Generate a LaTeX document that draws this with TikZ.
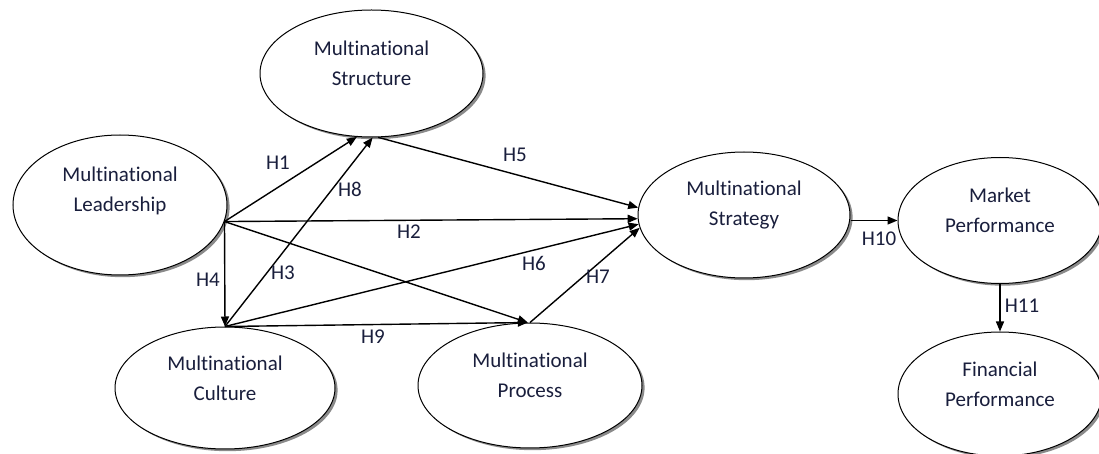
\documentclass[tikz,border=0pt]{standalone}
\usepackage{fontspec}
\setmainfont{Carlito}[Ligatures={NoCommon}]
\usetikzlibrary{arrows.meta, shapes.geometric, shadows}
\definecolor{inkblue}{RGB}{25, 30, 60}
\definecolor{shadowgray}{RGB}{125, 125, 125}

\begin{document}
\begin{tikzpicture}[
  x=0.5pt, y=-0.5pt,
  factor/.style={ellipse, draw, fill=white, line width=0.5pt, inner sep=0pt,
    drop shadow={shadow xshift=1.3pt, shadow yshift=-1.1pt, fill=shadowgray, opacity=0.9}},
  factortext/.style={align=center, text=inkblue, font=\fontsize{10.5}{15}\selectfont, yshift=5pt},
  hyp/.style={-{Triangle[length=5pt, width=4pt]}, line width=0.7pt},
  hlabel/.style={text=inkblue, font=\fontsize{10.5}{12}\selectfont, inner sep=1pt}
]
  \useasboundingbox (0,0) rectangle (1099,454);

  % --- Constructs ---
  \node[factor, minimum width=111.5pt, minimum height=63.5pt,
        label={[factortext]center:{Multinational\\Structure}}] (str) at (371.5,73.5) {};
  \node[factor, minimum width=107pt, minimum height=70pt,
        label={[factortext, yshift=2pt]center:{Multinational\\Leadership}}] (lead) at (120,205) {};
  \node[factor, minimum width=110pt, minimum height=61pt,
        label={[factortext]center:{Multinational\\Culture}}] (cult) at (225,388) {};
  \node[factor, minimum width=112pt, minimum height=62.5pt,
        label={[factortext]center:{Multinational\\Process}}] (proc) at (530,385.5) {};
  \node[factor, minimum width=106pt, minimum height=63pt,
        label={[factortext]center:{Multinational\\Strategy}}] (strat) at (744,215) {};
  \node[factor, minimum width=102pt, minimum height=63pt,
        label={[factortext]center:{Market\\Performance}}] (mkt) at (1000,220.5) {};
  \node[factor, minimum width=102pt, minimum height=62pt,
        label={[factortext]center:{Financial\\Performance}}] (fin) at (1000,394) {};

  % --- Hypothesised paths ---
  \draw[hyp] (lead.-9) -- (str.-103);           % H1
  \draw[hyp] (lead.-9) -- (strat.182);          % H2
  \draw[hyp] (lead.-9) -- (proc.92);            % H3
  \draw[hyp] (lead.-9) -- (cult.north);         % H4
  \draw[hyp] (str.-84) -- (strat.176);          % H5
  \draw[hyp] (cult.north) -- (strat.185);       % H6
  \draw[hyp] (proc.north) -- (strat.187);       % H7
  \draw[hyp] (cult.north) -- (str.-89);         % H8
  \draw[hyp] (cult.north) -- (proc.92);         % H9
  \draw[hyp] (strat.east |- mkt.west) -- (mkt.west); % H10
  \draw[hyp] (mkt.south) -- (fin.north);        % H11

  % --- Path labels ---
  \node[hlabel] (h1) at (278,163) {H1};
  \node[hlabel] (h2) at (409,232) {H2};
  \node[hlabel] (h3) at (283,273) {H3};
  \node[hlabel] (h4) at (208,280) {H4};
  \node[hlabel] (h5) at (515,155) {H5};
  \node[hlabel] (h6) at (534,263) {H6};
  \node[hlabel] (h7) at (598,277) {H7};
  \node[hlabel] (h8) at (350,189) {H8};
  \node[hlabel] (h9) at (373,337) {H9};
  \node[hlabel] (h10) at (879,239) {H10};
  \node[hlabel] (h11) at (1022,306) {H11};
\end{tikzpicture}
\end{document}
